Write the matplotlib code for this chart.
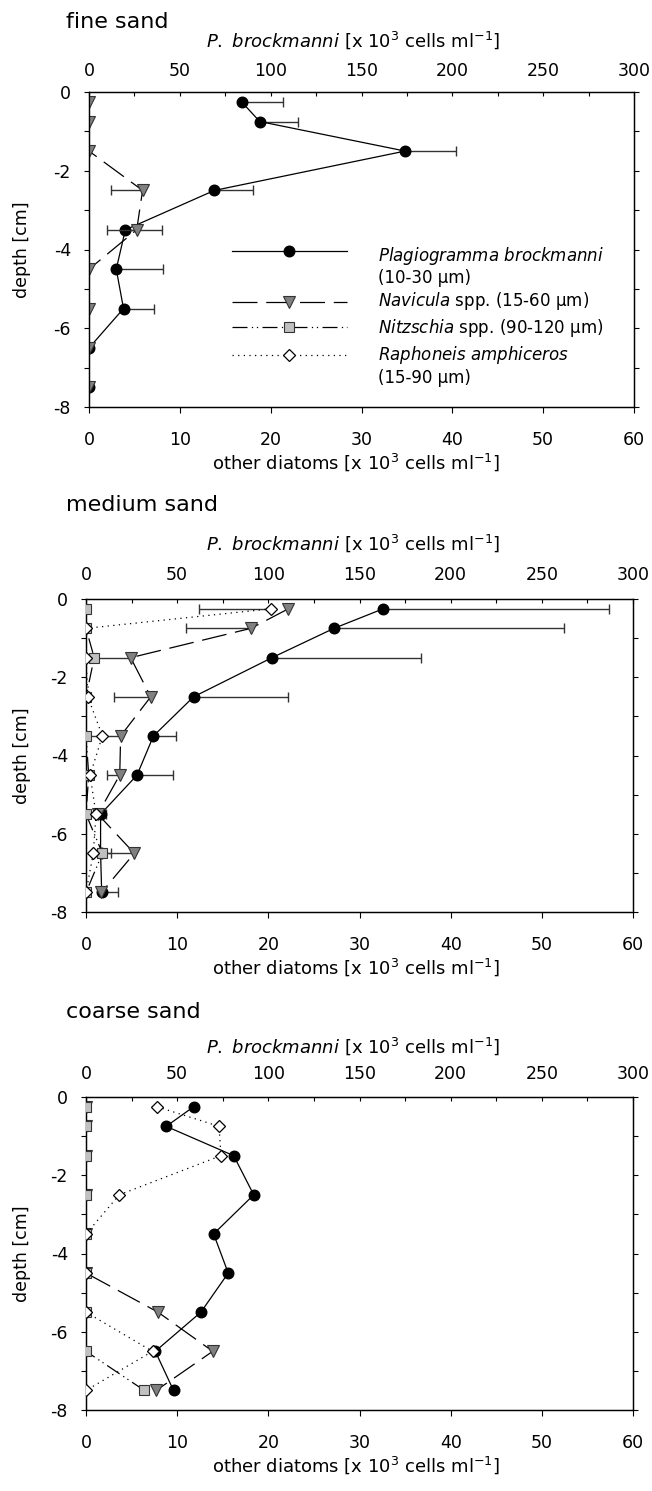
import numpy as np
import matplotlib
matplotlib.use("Agg")
import matplotlib.pyplot as plt
from matplotlib.ticker import MultipleLocator

plt.rcParams['font.family'] = ['DejaVu Sans']
plt.rcParams['mathtext.fontset'] = 'dejavusans'
plt.rcParams['axes.unicode_minus'] = False

nan = np.nan

# sampling depths (cm)
depth = [-0.25, -0.75, -1.5, -2.5, -3.5, -4.5, -5.5, -6.5, -7.5]

# fine sand
fine_plag = [84, 94, 174, 69, 20, 15, 19, 0, 0]
fine_plag_err = [23, 21, 28, 21, 20, 26, 17, 0, 0]
fine_navi = [0, 0, 0, 5.9, 5.25, 0, 0, 0, 0]
fine_navi_err = [0, 0, 0, 3.5, 3.3, 0, 0, 0, 0]
fine_nitz = [nan] * 9
fine_raph = [nan] * 9
fine_raph_err = [0] * 9

# medium sand
med_plag = [163, 136, 102, 59, 37, 28, 8, 8, 8.6]
med_plag_err = [124, 126, 82, 52, 12.5, 19.5, 3, 5.5, 9]
med_navi = [22.2, 18.1, 4.9, 7.1, 3.8, 3.7, 1.3, 5.3, 1.7]
med_navi_err = [0, 7.1, 4.0, 4.0, 3.8, 1.4, 0, 3.1, 0]
med_nitz = [0, 0, 0.9, 0, 0, 0.3, 0, 1.8, 0]
med_raph = [20.3, 0, 0, 0.2, 1.8, 0.45, 1.1, 0.8, 0]
med_raph_err = [7.9, 0, 0, 0, 0, 0, 0, 0, 0]

# coarse sand
coarse_plag = [59, 44, 81, 92, 70, 78, 63, 38, 48]
coarse_plag_err = [0] * 9
coarse_navi = [0, 0, 0, 0, 0, 0, 7.9, 13.9, 7.7]
coarse_navi_err = [0] * 9
coarse_nitz = [0, 0, 0, 0, 0, 0, 0, 0, 6.4]
coarse_raph = [7.8, 14.6, 14.8, 3.65, 0, 0, 0, 7.3, 0]
coarse_raph_err = [0] * 9

W, H = 652, 1491

plag_style = dict(color='black', lw=0.9, marker='o', ms=7.6, mfc='black', mec='black')
navi_style = dict(color='black', lw=0.9, ls=(0, (20, 7)), marker='v', ms=8.2,
                  mfc='#808080', mec='#333333', mew=0.8)
nitz_style = dict(color='black', lw=0.9, ls=(0, (12, 3.5, 1, 3, 1, 3.5)), marker='s', ms=6.6,
                  mfc='#c0c0c0', mec='#333333', mew=0.8)
raph_style = dict(color='black', lw=0.9, ls=(0, (1, 3.5)), marker='D', ms=5.8,
                  mfc='white', mec='black', mew=0.9)
err_style = dict(fmt='none', ecolor='#333333', elinewidth=1, capsize=3.5, capthick=1)


def fy(py):
    return 1 - py / H


def error_bars(ax, vals, errs, side):
    x = np.array(vals, dtype=float)
    e = np.array(errs, dtype=float)
    d = np.array(depth)
    m = e > 0
    if not m.any():
        return
    z = np.zeros(m.sum())
    xerr = [z, e[m]] if side == 'plus' else [e[m], z]
    ax.errorbar(x[m], d[m], xerr=xerr, zorder=1, **err_style)


def draw_panel(fig, rect, title, title_y, top_y, bot_y, top_pad,
               plag, plag_err, navi, navi_err, nitz, raph, raph_err):
    ax = fig.add_axes(rect)
    ax2 = ax.twiny()
    ax.set_zorder(ax2.get_zorder() + 1)
    ax.patch.set_visible(False)

    # P. brockmanni on top scale
    error_bars(ax2, plag, plag_err, 'plus')
    ax2.plot(plag, depth, zorder=2, **plag_style)

    # other diatoms on bottom scale
    error_bars(ax, navi, navi_err, 'minus')
    error_bars(ax, raph, raph_err, 'minus')
    ax.plot(navi, depth, zorder=2, **navi_style)
    ax.plot(nitz, depth, zorder=3, **nitz_style)
    ax.plot(raph, depth, zorder=4, **raph_style)

    ax.set_xlim(0, 60)
    ax2.set_xlim(0, 300)
    ax.set_ylim(-8, 0)
    ax.xaxis.set_major_locator(MultipleLocator(10))
    ax2.xaxis.set_major_locator(MultipleLocator(50))
    ax2.xaxis.set_minor_locator(MultipleLocator(25))
    ax.yaxis.set_major_locator(MultipleLocator(2))
    ax.yaxis.set_minor_locator(MultipleLocator(1))

    ax.tick_params(axis='x', which='both', direction='out', length=4.5, width=0.8,
                   labelsize=12.5, pad=12.5)
    ax2.tick_params(axis='x', which='both', direction='in', length=3, width=0.8,
                    labelsize=12.5, pad=top_pad)
    ax.tick_params(axis='y', which='both', direction='out', length=3.5, width=0.8,
                   left=True, right=True, labelsize=12.5, pad=9.5)
    for a in (ax, ax2):
        for s in a.spines.values():
            s.set_linewidth(0.9)

    l, b, w, h = rect
    fig.text(66 / W, fy(title_y), title, fontsize=16, ha='left', va='baseline')
    fig.text(353 / W, fy(top_y),
             r'$\it{P.}$ $\it{brockmanni}$ [x 10$^3$ cells ml$^{-1}$]',
             fontsize=13, ha='center', va='baseline')
    fig.text(356 / W, fy(bot_y),
             r'other diatoms [x 10$^3$ cells ml$^{-1}$]',
             fontsize=13, ha='center', va='baseline')
    fig.text(22 / W, b + h / 2, 'depth [cm]', fontsize=12.5, rotation=90,
             ha='center', va='center')
    return ax


fig = plt.figure(figsize=(W / 100, H / 100), dpi=100)

ax1 = draw_panel(fig, [89 / W, fy(407), 545 / W, 315 / H], 'fine sand', 28, 47, 469, 8.5,
                 fine_plag, fine_plag_err, fine_navi, fine_navi_err, fine_nitz,
                 fine_raph, fine_raph_err)
draw_panel(fig, [86 / W, fy(912), 547 / W, 313 / H], 'medium sand', 511, 550, 974, 11,
           med_plag, med_plag_err, med_navi, med_navi_err, med_nitz,
           med_raph, med_raph_err)
draw_panel(fig, [86 / W, fy(1410), 547 / W, 313 / H], 'coarse sand', 1018, 1053, 1472, 10,
           coarse_plag, coarse_plag_err, coarse_navi, coarse_navi_err, coarse_nitz,
           coarse_raph, coarse_raph_err)

# legend keys (fine sand panel)
keys = [plag_style, navi_style, nitz_style, raph_style]
key_y = [0.494, 0.333, 0.253, 0.166]
for st, ky in zip(keys, key_y):
    line_st = {k: v for k, v in st.items() if not k.startswith('m')}
    ax1.plot([0.262, 0.473], [ky, ky], transform=ax1.transAxes, clip_on=False, **line_st)
    ax1.plot([0.367], [ky], transform=ax1.transAxes, clip_on=False, ls='none',
             **{k: v for k, v in st.items() if k.startswith('m')})

lx = 0.530
ax1.text(lx, 0.478, r'$\it{Plagiogramma}$ $\it{brockmanni}$', transform=ax1.transAxes,
         fontsize=12, va='center')
ax1.text(lx, 0.408, '(10-30 µm)', transform=ax1.transAxes, fontsize=12, va='center')
ax1.text(lx, 0.337, r'$\it{Navicula}$ spp. (15-60 µm)', transform=ax1.transAxes,
         fontsize=12, va='center')
ax1.text(lx, 0.250, r'$\it{Nitzschia}$ spp. (90-120 µm)', transform=ax1.transAxes,
         fontsize=12, va='center')
ax1.text(lx, 0.164, r'$\it{Raphoneis}$ $\it{amphiceros}$', transform=ax1.transAxes,
         fontsize=12, va='center')
ax1.text(lx, 0.092, '(15-90 µm)', transform=ax1.transAxes, fontsize=12, va='center')

fig.savefig('out.png', dpi=100)
